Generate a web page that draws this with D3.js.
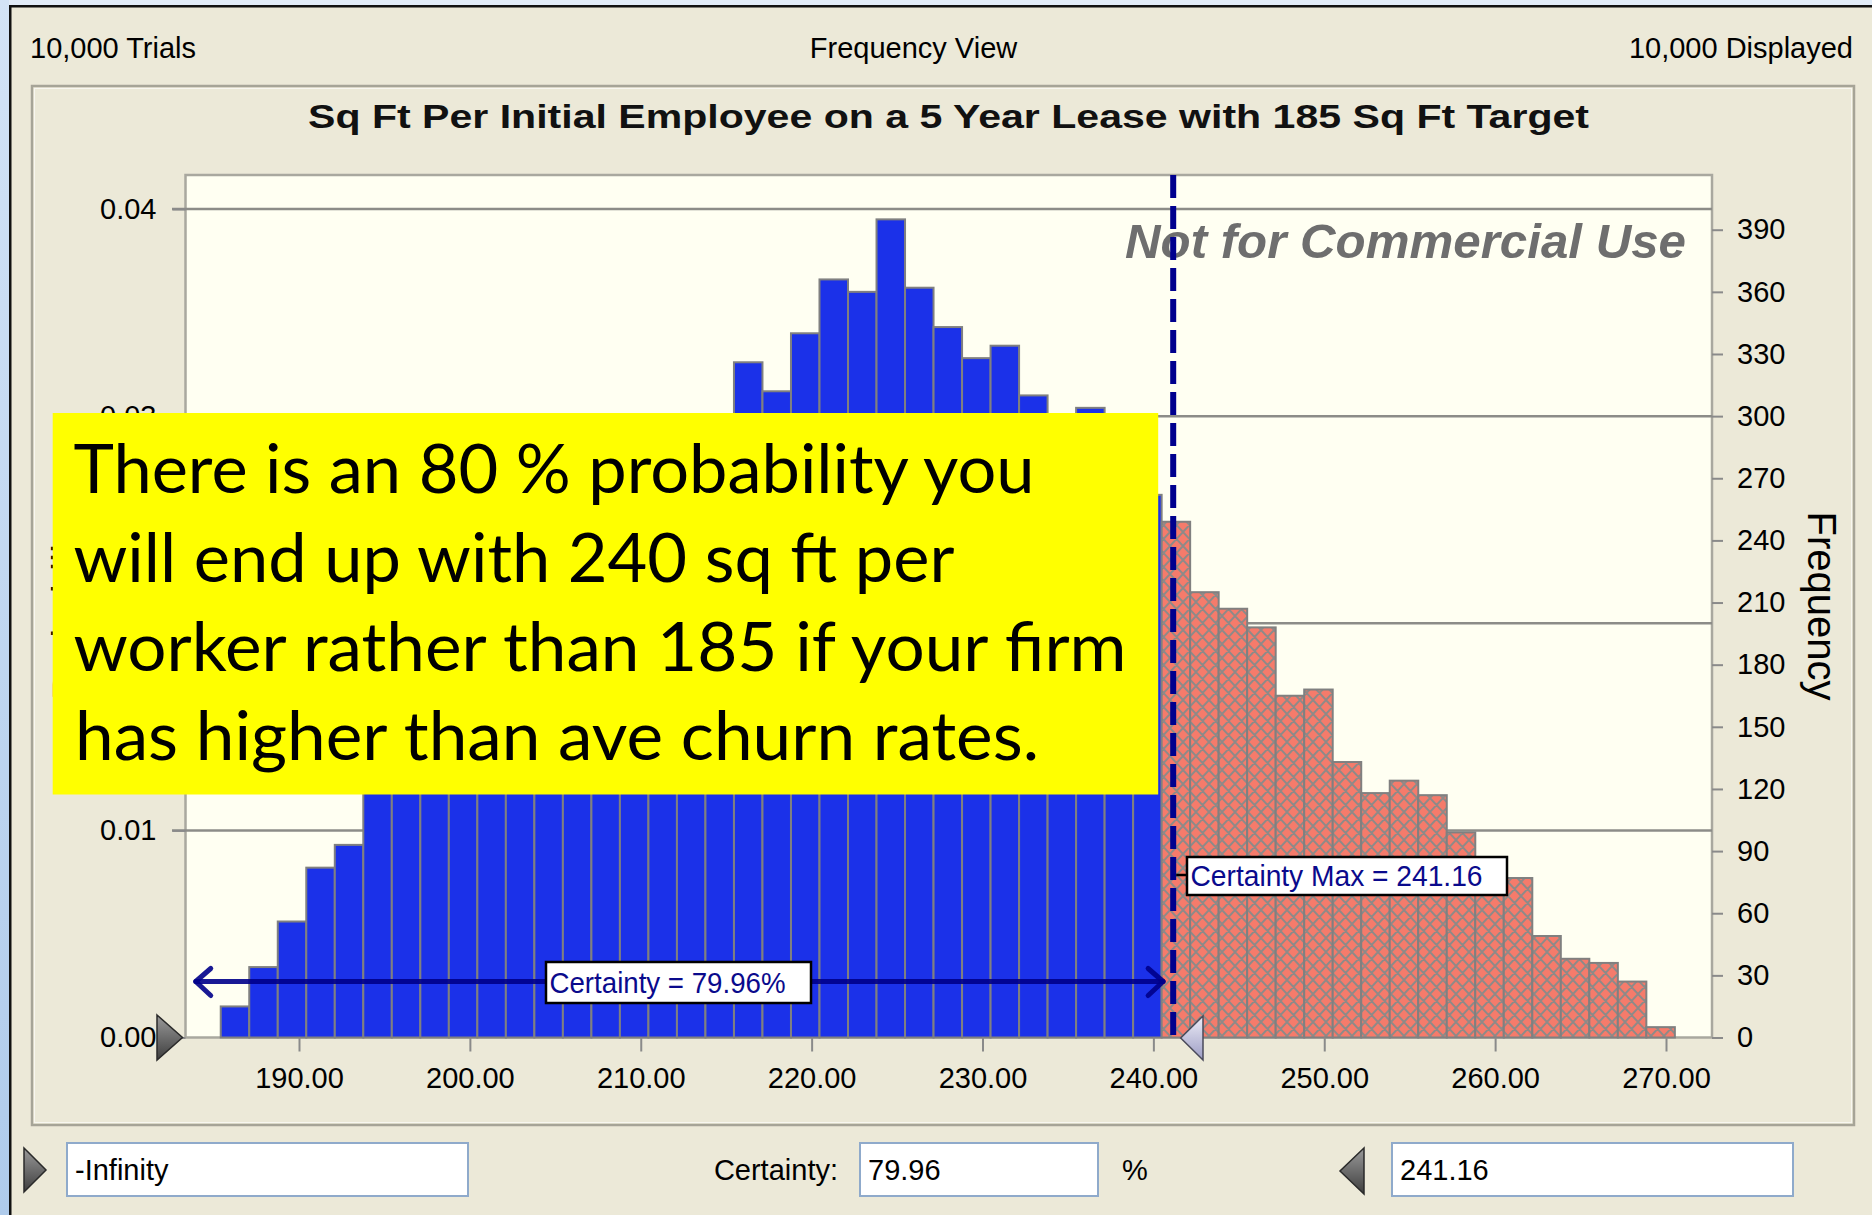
<!DOCTYPE html>
<html><head><meta charset="utf-8">
<script src="https://cdn.jsdelivr.net/npm/d3@7"></script>
<style>html,body{margin:0;padding:0;background:#ECE9D8;} svg{display:block;}</style>
</head><body>
<svg id="c" width="1872" height="1215"></svg>
<script>
// ---------------- data ----------------
const trials = 10000;
const binMin = 185.42;
const binWidth = 1.6686;
// counts per bin inside the certainty range (blue) and beyond it (red)
const blueCounts = [15,34,56,82,93,120,138,152,168,182,195,208,222,236,250,263,276,290,326,312,340,366,360,395,362,343,328,334,310,292,304,278,262];
const redCounts = [249,215,207,198,165,168,133,118,124,117,99,84,77,49,38,36,27,5];
const xTicks = [190,200,210,220,230,240,250,260,270];
const probTicks = [0,0.01,0.02,0.03,0.04];
const freqTicks = [0,30,60,90,120,150,180,210,240,270,300,330,360,390];
const certaintyMax = 241.16;
const certaintyPct = 79.96;
const headerLabels = ["10,000 Trials","Frequency View","10,000 Displayed"];
const chartTitle = "Sq Ft Per Initial Employee on a 5 Year Lease with 185 Sq Ft Target";
const noteLines = ["There is an 80 % probability you","will end up with 240 sq ft per","worker rather than 185 if your firm","has higher than ave churn rates."];
const bottomFields = ["-Infinity","79.96","241.16"];

// ---------------- setup ----------------
const W = 1872, H = 1215;
const FONT = "'Liberation Sans', Arial, sans-serif";
const svg = d3.select("#c");
const plot = {l:185.5, r:1712, t:175, b:1037.5};
const x = d3.scaleLinear().domain([190,270]).range([299,1666]);
const yF = d3.scaleLinear().domain([0,400]).range([plot.b,209]);
const yP = d3.scaleLinear().domain([0,400/trials]).range([plot.b,209]);

const defs = svg.append("defs");
const pat = defs.append("pattern").attr("id","hatch").attr("patternUnits","userSpaceOnUse")
  .attr("width",13).attr("height",14);
pat.append("rect").attr("width",13).attr("height",14).attr("fill","#F57B6B");
pat.append("path").attr("d","M0,0L13,14M13,0L0,14M-2,12L2,16M11,-2L15,2M-2,2L2,-2M11,16L15,12")
  .attr("stroke","#8E8A88").attr("stroke-width",1.9).attr("fill","none");
function lin(id, c1, c2, horiz){
  const g = defs.append("linearGradient").attr("id",id)
    .attr("x1",0).attr("y1",0).attr("x2",horiz?1:0).attr("y2",horiz?0:1);
  g.append("stop").attr("offset","0%").attr("stop-color",c1);
  g.append("stop").attr("offset","100%").attr("stop-color",c2);
}
lin("darkTri","#9A9A9A","#3E3E3E",false);
lin("lavTri","#EDEDF7","#9C9CC4",false);
lin("leftStrip","#D3E3F6","#AFCBEB",false);

// ---------------- window chrome ----------------
svg.append("rect").attr("width",W).attr("height",H).attr("fill","#ECE9D8");
svg.append("rect").attr("x",0).attr("y",0).attr("width",W).attr("height",5).attr("fill","#E2ECF8");
svg.append("rect").attr("x",0).attr("y",0).attr("width",9).attr("height",H).attr("fill","url(#leftStrip)");
svg.append("rect").attr("x",9).attr("y",5).attr("width",W-9).attr("height",2.5).attr("fill","#111");
svg.append("rect").attr("x",9).attr("y",5).attr("width",2.5).attr("height",H-5).attr("fill","#111");

// header
const hdr = svg.append("g").attr("font-family",FONT).attr("font-size",29).attr("fill","#000");
hdr.append("text").attr("x",30).attr("y",58).text(headerLabels[0]);
hdr.append("text").attr("x",913.5).attr("y",58).attr("text-anchor","middle").text(headerLabels[1]);
hdr.append("text").attr("x",1853).attr("y",58).attr("text-anchor","end").text(headerLabels[2]);

// panel
svg.append("rect").attr("x",32).attr("y",86).attr("width",1822).attr("height",1039)
  .attr("fill","none").attr("stroke","#A6A497").attr("stroke-width",2.5);
svg.append("rect").attr("x",34.5).attr("y",88.5).attr("width",1817).attr("height",1034)
  .attr("fill","none").attr("stroke","#F8F7F0").attr("stroke-width",1);

// title
svg.append("text").attr("x",308).attr("y",128).attr("font-family",FONT).attr("font-size",33)
  .attr("font-weight","bold").attr("fill","#111").attr("textLength",1281)
  .attr("lengthAdjust","spacingAndGlyphs").text(chartTitle);

// ---------------- plot ----------------
svg.append("rect").attr("x",plot.l).attr("y",plot.t).attr("width",plot.r-plot.l).attr("height",plot.b-plot.t)
  .attr("fill","#FFFFF2").attr("stroke","#A9A89F").attr("stroke-width",2.5);

// left axis label (mostly hidden beneath the note box)
svg.append("text").attr("transform","translate(81,606.5) rotate(-90)").attr("text-anchor","middle")
  .attr("font-family",FONT).attr("font-size",40).attr("fill","#000").text("Probability");
// right axis label
svg.append("text").attr("transform","translate(1808,606) rotate(90)").attr("text-anchor","middle")
  .attr("font-family",FONT).attr("font-size",40).attr("fill","#000").text("Frequency");

// gridlines
svg.append("g").selectAll("line").data(probTicks.filter(d=>d>0)).join("line")
  .attr("x1",172).attr("x2",plot.r).attr("y1",d=>yP(d)).attr("y2",d=>yP(d))
  .attr("stroke","#8C8C88").attr("stroke-width",2.5);

// bars
const counts = blueCounts.concat(redCounts);
const bins = counts.map((c,i)=>({x0: binMin + i*binWidth, x1: binMin + (i+1)*binWidth, count:c, inRange: i < blueCounts.length}));
svg.append("g").selectAll("rect").data(bins).join("rect")
  .attr("x",d=>x(d.x0)).attr("width",d=>x(d.x1)-x(d.x0))
  .attr("y",d=>yF(d.count)).attr("height",d=>plot.b-yF(d.count))
  .attr("fill",d=>d.inRange ? "#1B31E9" : "url(#hatch)")
  .attr("stroke","#808080").attr("stroke-width",2);

// watermark
svg.append("text").attr("x",1125).attr("y",258).attr("font-family",FONT).attr("font-size",49)
  .attr("font-weight","bold").attr("font-style","italic").attr("fill","#6E6E6E")
  .attr("textLength",561).attr("lengthAdjust","spacingAndGlyphs").text("Not for Commercial Use");

// certainty max dashed line
svg.append("line").attr("x1",x(certaintyMax)).attr("x2",x(certaintyMax)).attr("y1",plot.t).attr("y2",plot.b)
  .attr("stroke","#00008E").attr("stroke-width",6).attr("stroke-dasharray","23 8");

// axes
function styleAxis(g){
  g.attr("font-family",FONT).attr("font-size",29);
  g.select(".domain").remove();
  g.selectAll(".tick line").attr("stroke","#8A8A8A").attr("stroke-width",2);
  g.selectAll(".tick text").attr("fill","#000");
}
svg.append("g").attr("transform",`translate(0,${plot.b})`)
  .call(d3.axisBottom(x).tickValues(xTicks).tickFormat(d3.format(".2f")).tickSize(14).tickPadding(16))
  .call(styleAxis);
svg.append("g").attr("transform",`translate(${plot.l},0)`)
  .call(d3.axisLeft(yP).tickValues(probTicks).tickFormat(d3.format(".2f")).tickSize(13).tickPadding(16))
  .call(styleAxis);
svg.append("g").attr("transform",`translate(${plot.r},0)`)
  .call(d3.axisRight(yF).tickValues(freqTicks).tickSize(11).tickPadding(14))
  .call(styleAxis);

// certainty arrow
const ay = 981.5;
const ax0 = x(binMin) - 25, ax1 = x(binMin + blueCounts.length*binWidth) + 1.5;
const arrow = svg.append("g").attr("stroke","#00008A").attr("stroke-width",5).attr("fill","none")
  .attr("stroke-opacity",0.9).attr("stroke-linecap","round").attr("stroke-linejoin","round");
arrow.append("line").attr("x1",ax0).attr("x2",ax1).attr("y1",ay).attr("y2",ay);
arrow.append("path").attr("d",`M${ax0+15},${ay-13}L${ax0},${ay}L${ax0+15},${ay+14}`);
arrow.append("path").attr("d",`M${ax1-15},${ay-13}L${ax1},${ay}L${ax1-15},${ay+14}`);

// certainty label
svg.append("rect").attr("x",546).attr("y",962).attr("width",265).attr("height",41)
  .attr("fill","#fff").attr("stroke","#000").attr("stroke-width",2.5);
svg.append("text").attr("x",549.5).attr("y",993).attr("font-family",FONT).attr("font-size",29)
  .attr("fill","#0A0A8C").attr("textLength",236).attr("lengthAdjust","spacingAndGlyphs")
  .text(`Certainty = ${certaintyPct.toFixed(2)}%`);

// certainty max label
svg.append("line").attr("x1",x(certaintyMax)+3).attr("x2",1187).attr("y1",875).attr("y2",875)
  .attr("stroke","#000").attr("stroke-width",2.5);
svg.append("rect").attr("x",1187).attr("y",857).attr("width",320).attr("height",38)
  .attr("fill","#fff").attr("stroke","#000").attr("stroke-width",2.5);
svg.append("text").attr("x",1190.5).attr("y",886).attr("font-family",FONT).attr("font-size",29)
  .attr("fill","#0A0A8C").attr("textLength",292).attr("lengthAdjust","spacingAndGlyphs")
  .text(`Certainty Max = ${certaintyMax.toFixed(2)}`);

// range markers
svg.append("path").attr("d",`M157,1015L182.5,${plot.b}L157,1060Z`)
  .attr("fill","url(#darkTri)").attr("stroke","#2A2A2A").attr("stroke-width",1.5);
svg.append("path").attr("d",`M1203,1016L${x(certaintyMax)+7.5},1038L1203,1060Z`)
  .attr("fill","url(#lavTri)").attr("stroke","#4A4A5A").attr("stroke-width",1.5);

// ---------------- note box ----------------
svg.append("rect").attr("x",52.7).attr("y",413).attr("width",1105.5).attr("height",381.5).attr("fill","#FFFF00");
const noteX = [73.5,73.5,73.5,75];
const noteY = [492.7,581.7,671,760];
const noteW = [961,881,1053,964];
svg.append("g").attr("font-family","Lato, 'Open Sans', sans-serif").attr("font-size",67).attr("fill","#000")
  .selectAll("text").data(noteLines).join("text")
  .attr("x",(d,i)=>noteX[i]).attr("y",(d,i)=>noteY[i])
  .attr("textLength",(d,i)=>noteW[i]).attr("lengthAdjust","spacingAndGlyphs")
  .text(d=>d);

// ---------------- bottom controls ----------------
const ctl = svg.append("g").attr("font-family",FONT).attr("font-size",29).attr("fill","#000");
ctl.append("path").attr("d","M24,1148L46,1170L24,1192Z").attr("fill","url(#darkTri)").attr("stroke","#2A2A2A").attr("stroke-width",1.5);
ctl.append("path").attr("d","M1364,1148L1340,1171L1364,1194Z").attr("fill","url(#darkTri)").attr("stroke","#2A2A2A").attr("stroke-width",1.5);
const boxes = [[67,401],[860,238],[1392,401]];
boxes.forEach((b,i)=>{
  ctl.append("rect").attr("x",b[0]).attr("y",1143).attr("width",b[1]).attr("height",53)
    .attr("fill","#fff").attr("stroke","#8FAACB").attr("stroke-width",2);
  ctl.append("text").attr("x",b[0]+8).attr("y",1180).text(bottomFields[i]);
});
ctl.append("text").attr("x",838).attr("y",1180).attr("text-anchor","end").text("Certainty:");
ctl.append("text").attr("x",1122).attr("y",1180).text("%");
</script>
</body></html>
